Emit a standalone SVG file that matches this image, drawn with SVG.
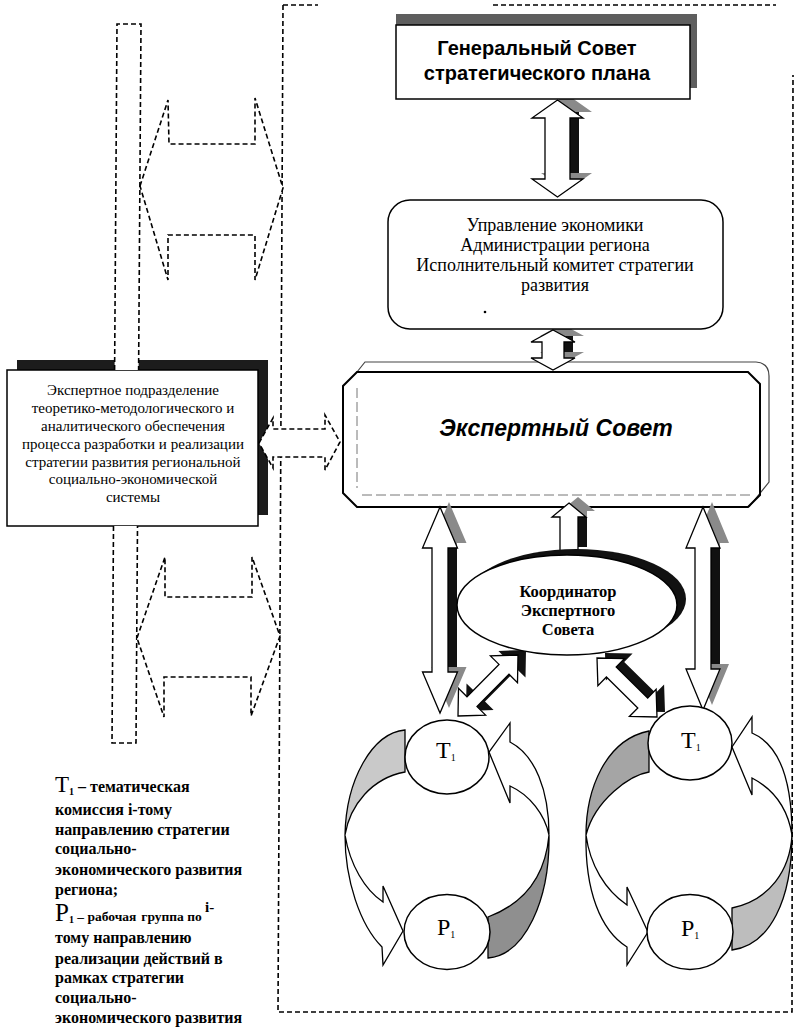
<svg xmlns="http://www.w3.org/2000/svg" width="795" height="1028" viewBox="0 0 795 1028">
<defs>
<style>
.ln{fill:#fff;stroke:#000;stroke-width:1.5}
.dsh{fill:#fff;stroke:#000;stroke-width:1.6;stroke-dasharray:5 3}
.sg{fill:#8a8a8a}
.sb{fill:#111}
.arr{fill:#fff;stroke:#000;stroke-width:1.3;stroke-linejoin:miter}
.lp{stroke:#000;stroke-width:1.3;stroke-linejoin:miter}
.serif{font-family:"Liberation Serif","Times New Roman",serif}
.sans{font-family:"Liberation Sans",Arial,sans-serif}
</style>
</defs>
<rect width="795" height="1028" fill="#fff"/>

<g id="frame" fill="none" stroke="#000" stroke-width="1.6" stroke-dasharray="5 3">
<path d="M283,5 H318"/>
<path d="M493,5 H776"/>
<path d="M283,5 L278,1012 H792 L793,75"/>
</g>

<g id="node-sovet">
<path d="M343,386 L357,372 L365,362 L756,362 Q769,363 769,376 L769,482 L749,507 L357,507 L343,493 Z" fill="#fff"/>
<path d="M357,372 L365,362 L756,362 Q769,363 769,376 L769,482 L749,507" fill="none" stroke="#444" stroke-width="1.2"/>
<path d="M357,388 V488 M362,495 H752" fill="none" stroke="#777" stroke-width="1" stroke-dasharray="10 4"/>
<path d="M357,372 L748,372 L760,384 L760,495 L748,507 L357,507 L343,493 L343,386 Z" fill="none" stroke="#000" stroke-width="2"/>
<text x="556" y="436" class="sans" font-size="23" font-weight="bold" font-style="italic" text-anchor="middle">Экспертный Совет</text>
</g>

<g id="node-podrazd">
<rect x="17" y="360" width="251" height="155" fill="#1c1c1c"/>
<rect x="7" y="370" width="251" height="156" class="ln"/>
<g class="serif" font-size="15" text-anchor="middle">
<text x="133" y="395">Экспертное подразделение</text>
<text x="133" y="413">теоретико-методологического и</text>
<text x="133" y="431">аналитического обеспечения</text>
<text x="133" y="449">процесса разработки и реализации</text>
<text x="133" y="467">стратегии развития региональной</text>
<text x="133" y="484">социально-экономической</text>
<text x="133" y="502">системы</text>
</g>
</g>

<g id="connectors">
<path class="dsh" d="M114.6,370 L117,24 H141 L138.6,370"/>
<path class="dsh" d="M113.5,526 L112,743 H136 L137.5,526"/>
<polygon class="dsh" points="140,186 168,100 169,144 255,144 255,98 283,188 255,280 255,235 168,235 168,280"/>
<polygon class="dsh" points="137,638 165,557 165,597 252,597 252,557 280,636 251,716 251,677 164,677 164,717"/>
<polygon class="dsh" points="259,443 273,418 273,429 325,429 325,415 340,442 325,470 325,457 273,457 273,468"/>

<polygon class="sg" transform="translate(9,-6)" points="557.5,100 583,118 570,118 570,179 583,179 557.5,197 532,179 545,179 545,118 532,118"/>
<rect class="sb" x="554" y="112" width="25" height="61"/>
<polygon class="arr" points="557.5,100 583,118 570,118 570,179 583,179 557.5,197 532,179 545,179 545,118 532,118"/>

<polygon class="sg" transform="translate(9,-6)" points="553,330 575,342 564,342 564,358 575,358 553,370 531,358 542,358 542,342 531,342"/>
<rect class="sb" x="551" y="336" width="22" height="16"/>
<polygon class="arr" points="553,330 575,342 564,342 564,358 575,358 553,370 531,358 542,358 542,342 531,342"/>

<polygon class="sg" transform="translate(9,-5)" points="440,507 457.5,548 448,548 448,672 457.5,672 440,713 422.5,672 432,672 432,548 422.5,548"/>
<rect class="sb" x="441" y="548" width="16" height="119"/>
<polygon class="arr" points="440,507 457.5,548 448,548 448,672 457.5,672 440,713 422.5,672 432,672 432,548 422.5,548"/>

<polygon class="sg" transform="translate(9,-5)" points="703,507 720,548 711,548 711,669 720,669 703,710 686,669 695,669 695,548 686,548"/>
<rect class="sb" x="704" y="548" width="16" height="116"/>
<polygon class="arr" points="703,507 720,548 711,548 711,669 720,669 703,710 686,669 695,669 695,548 686,548"/>

<polygon class="sg" transform="translate(9,-6)" points="569,503 586,517 578,517 578,552 560,552 560,517 552,517"/>
<rect class="sb" x="569" y="517" width="18" height="30"/>
<polygon class="arr" points="569,503 586,517 578,517 578,552 560,552 560,517 552,517"/>

<polygon class="sb" transform="translate(8,-5)" points="458,716 485.6,715.1 477,706.6 509,674.2 517.5,682.6 518,655 490.4,655.9 499,664.4 467,696.8 458.5,688.4"/>
<polygon class="arr" points="458,716 485.6,715.1 477,706.6 509,674.2 517.5,682.6 518,655 490.4,655.9 499,664.4 467,696.8 458.5,688.4"/>

<polygon class="sb" transform="translate(8,-5)" points="597,658 597.9,685.6 606.4,677 637.8,708 629.4,716.5 657,717 656.1,689.4 647.7,698 616.2,667 624.6,658.5"/>
<polygon class="arr" points="597,658 597.9,685.6 606.4,677 637.8,708 629.4,716.5 657,717 656.1,689.4 647.7,698 616.2,667 624.6,658.5"/>

<path class="lp" fill="#c9c9c9" d="M405,730 L405,772 C372,778 350,805 345,835 C346,780 372,733 405,730 Z"/>
<path class="lp" fill="#fff" d="M345,835 C345,880 360,925 382,947 L383,965 L403,931 L383,886 L383,902 C365,890 350,865 345,835 Z"/>
<path class="lp" fill="#8f8f8f" d="M488,917 L488,958 C525,955 550,900 549,835 C545,880 520,905 488,917 Z"/>
<path class="lp" fill="#fff" d="M549,835 C549,790 535,755 510,742 L510,723 L489,752 L510,803 L510,786 C530,795 545,815 549,835 Z"/>

<path class="lp" fill="#a5a5a5" d="M649,731 L649,772 C630,775 595,800 586,835 C586,790 605,740 649,731 Z"/>
<path class="lp" fill="#fff" d="M586,835 C585,890 600,930 627,947 L627,965 L648,932 L627,887 L627,905 C605,890 590,865 586,835 Z"/>
<path class="lp" fill="#fff" d="M792,835 C792,780 780,745 752,733 L752,717 L732,747 L752,795 L752,778 C775,790 788,810 792,835 Z"/>
<path class="lp" fill="#bdbdbd" d="M732,908 L732,950 C770,945 792,900 792,835 C790,870 770,900 732,908 Z"/>
</g>

<g id="node-general">
<rect x="396" y="14" width="301" height="74" fill="#5e5e5e"/>
<rect x="396" y="25" width="294" height="74" class="ln"/>
<g class="sans" font-size="20" font-weight="bold" text-anchor="middle">
<text x="537" y="55">Генеральный Совет</text>
<text x="537" y="80">стратегического плана</text>
</g>
</g>

<g id="node-upravlenie">
<rect x="388" y="200" width="335" height="129" rx="22" ry="22" class="ln"/>
<g class="serif" font-size="18" text-anchor="middle">
<text x="555" y="231">Управление экономики</text>
<text x="555" y="251">Администрации региона</text>
<text x="555" y="271">Исполнительный комитет стратегии</text>
<text x="555" y="291">развития</text>
</g>
<circle cx="485" cy="312" r="1.3" fill="#000"/>
</g>

<g id="node-coord">
<ellipse cx="576" cy="599" rx="110" ry="50" fill="#111"/>
<ellipse cx="567" cy="605" rx="110" ry="50" class="ln"/>
<g class="serif" font-size="16.5" font-weight="bold" text-anchor="middle">
<text x="568" y="597">Координатор</text>
<text x="568" y="616">Экспертного</text>
<text x="568" y="635">Совета</text>
</g>
</g>

<g id="node-t1-left">
<ellipse cx="447" cy="757" rx="42" ry="37" class="ln"/>
<text x="436" y="758" class="serif" font-size="24">T<tspan font-size="10" dy="3">1</tspan></text>
</g>
<g id="node-p1-left">
<ellipse cx="447" cy="932" rx="43" ry="37.5" class="ln"/>
<text x="437" y="935" class="serif" font-size="24">P<tspan font-size="10" dy="3">1</tspan></text>
</g>
<g id="node-t1-right">
<ellipse cx="690" cy="743" rx="42" ry="37" class="ln"/>
<text x="681" y="748" class="serif" font-size="24">T<tspan font-size="10" dy="3">1</tspan></text>
</g>
<g id="node-p1-right">
<ellipse cx="690" cy="932" rx="43" ry="37.5" class="ln"/>
<text x="681" y="936" class="serif" font-size="24">P<tspan font-size="10" dy="3">1</tspan></text>
</g>

<g id="legend" class="serif" font-size="16" font-weight="bold">
<text x="55" y="792"><tspan font-size="23" font-weight="normal">T</tspan><tspan font-size="10" dy="3">1</tspan><tspan dy="-3"> – тематическая</tspan></text>
<text x="55" y="815">комиссия i-тому</text>
<text x="55" y="835">направлению стратегии</text>
<text x="55" y="854">социально-</text>
<text x="55" y="875">экономического развития</text>
<text x="55" y="895">региона;</text>
<text x="55" y="921"><tspan font-size="25" font-weight="normal">P</tspan><tspan font-size="10" dy="2">1</tspan><tspan dy="-2" font-size="13.5"> – рабочая</tspan><tspan dx="5" font-size="13.5">группа по </tspan><tspan dy="-9" font-size="15">i-</tspan></text>
<text x="55" y="943">тому направлению</text>
<text x="55" y="964">реализации действий в</text>
<text x="55" y="983">рамках стратегии</text>
<text x="55" y="1003">социально-</text>
<text x="55" y="1023">экономического развития</text>
</g>
</svg>
